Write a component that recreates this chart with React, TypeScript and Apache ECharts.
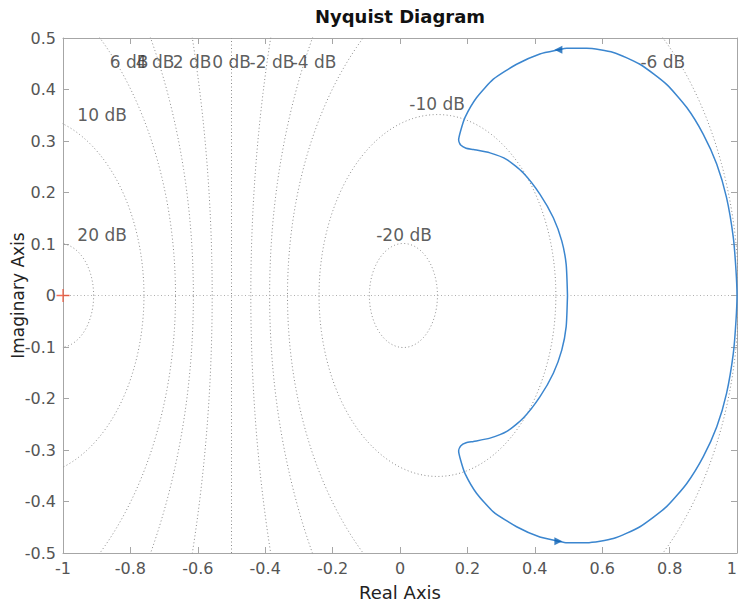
import React, { useEffect, useRef } from "react";
import * as echarts from "echarts";

// M-circle magnitudes (dB) of the Nyquist grid
const dbValues = [20, 10, 6, 4, 2, 0, -2, -4, -6, -10, -20];

// Grid label texts and anchor positions (data units)
const labelText = ["20 dB", "10 dB", "6 dB", "4 dB", "2 dB", "0 dB", "-2 dB", "-4 dB", "-6 dB", "-10 dB", "-20 dB"];
const labelX = [-0.884, -0.884, -0.804, -0.727, -0.617, -0.5, -0.38, -0.255, 0.78, 0.11, 0.012];
const labelY = [0.117, 0.351, 0.454, 0.454, 0.454, 0.454, 0.454, 0.454, 0.454, 0.371, 0.117];

// Positive-frequency branch of the Nyquist curve (omega: 0 -> inf)
const realPart = [
  1.0, 0.997, 0.989, 0.969, 0.94, 0.9, 0.851, 0.791, 0.712, 0.633, 0.554, 0.495, 0.47, 0.415,
  0.346, 0.277, 0.227, 0.193, 0.18, 0.174, 0.18, 0.196, 0.218, 0.267, 0.317, 0.366, 0.415,
  0.455, 0.48, 0.493, 0.497,
];
const imagPart = [
  0.0, 0.049, 0.113, 0.19, 0.255, 0.313, 0.365, 0.41, 0.449, 0.472, 0.48, 0.48, 0.477, 0.469,
  0.449, 0.42, 0.384, 0.346, 0.32, 0.302, 0.292, 0.286, 0.2835, 0.277, 0.264, 0.238, 0.197,
  0.151, 0.106, 0.061, 0.0,
];

// Direction arrows on the curve
const arrowX = [0.47, 0.47];
const arrowY = [0.477, -0.477];
const arrowRotate = [90, -90];

// Critical point
const criticalPoint = [-1, 0];

const xMin = -1, xMax = 1, xInterval = 0.2;
const yMin = -0.5, yMax = 0.5, yInterval = 0.1;

const FONT = "DejaVu Sans";

function mCircle(db: number): number[][] {
  const pts: number[][] = [];
  if (db === 0) {
    pts.push([-0.5, yMin], [-0.5, yMax]);
    return pts;
  }
  const M = Math.pow(10, db / 20);
  const M2 = M * M;
  const c = -M2 / (M2 - 1);
  const r = Math.abs(M / (M2 - 1));
  for (let i = 0; i <= 720; i++) {
    const t = (i / 720) * Math.PI * 2;
    pts.push([c + r * Math.cos(t), r * Math.sin(t)]);
  }
  return pts;
}

export default function App() {
  const ref = useRef<HTMLDivElement>(null);
  useEffect(() => {
    if (!ref.current) return;
    const chart = echarts.init(ref.current, undefined, { renderer: "svg" });

    const upper = realPart.map((x, i) => [x, imagPart[i]]);
    const lower = realPart.map((x, i) => [x, -imagPart[i]]).reverse();
    const curve = [...lower, ...upper];

    const gridLine = {
      color: "#8a8a8a",
      width: 1,
      type: [1, 2.5] as number[],
    };

    const circleSeries = dbValues.map((db) => ({
      type: "line",
      data: mCircle(db),
      showSymbol: false,
      symbol: "none",
      silent: true,
      lineStyle: gridLine,
      z: 1,
      clip: true,
    }));

    const axisColor = "#a6a6a6";
    const labelColor = "#555555";

    const option: any = {
      animation: false,
      graphic: [
        {
          type: "text",
          x: 400,
          y: 16,
          style: {
            text: "Nyquist Diagram",
            font: `bold 18px "${FONT}"`,
            fill: "#111",
            textAlign: "center",
            textVerticalAlign: "middle",
          },
        },
      ],
      grid: { left: 63, right: 1, top: 38, bottom: 53, containLabel: false, outerBoundsMode: "none" },
      xAxis: [
        {
          type: "value",
          min: xMin,
          max: xMax,
          interval: xInterval,
          position: "bottom",
          name: "Real Axis",
          nameLocation: "middle",
          nameGap: 30,
          nameMoveOverlap: false,
          nameTextStyle: { fontFamily: FONT, fontSize: 18, color: "#222" },
          axisLine: { show: true, onZero: false, lineStyle: { color: axisColor, width: 1 } },
          axisTick: { show: true, inside: true, length: 6, lineStyle: { color: axisColor } },
          axisLabel: { fontFamily: FONT, fontSize: 16, color: labelColor, margin: 7, alignMaxLabel: "right" },
          splitLine: { show: false },
        },
        {
          type: "value",
          min: xMin,
          max: xMax,
          interval: xInterval,
          position: "top",
          axisLine: { show: true, onZero: false, lineStyle: { color: axisColor, width: 1 } },
          axisTick: { show: true, inside: true, length: 6, lineStyle: { color: axisColor } },
          axisLabel: { show: false },
          splitLine: { show: false },
        },
      ],
      yAxis: [
        {
          type: "value",
          min: yMin,
          max: yMax,
          interval: yInterval,
          position: "left",
          name: "Imaginary Axis",
          nameLocation: "middle",
          nameGap: 36,
          nameMoveOverlap: false,
          nameTextStyle: { fontFamily: FONT, fontSize: 17, color: "#222", lineHeight: 18 },
          axisLine: { show: true, onZero: false, lineStyle: { color: axisColor, width: 1 } },
          axisTick: { show: true, inside: true, length: 6, lineStyle: { color: axisColor } },
          axisLabel: { fontFamily: FONT, fontSize: 16, color: labelColor, margin: 7 },
          splitLine: { show: false },
        },
        {
          type: "value",
          min: yMin,
          max: yMax,
          interval: yInterval,
          position: "right",
          axisLine: { show: true, onZero: false, lineStyle: { color: axisColor, width: 1 } },
          axisTick: { show: true, inside: true, length: 6, lineStyle: { color: axisColor } },
          axisLabel: { show: false },
          splitLine: { show: false },
        },
      ],
      series: [
        ...circleSeries,
        {
          type: "line",
          data: [
            [xMin, 0],
            [xMax, 0],
          ],
          symbol: "none",
          silent: true,
          lineStyle: { color: "#b0b0b0", width: 1, type: [1, 2.5] },
          z: 1,
        },
        {
          type: "scatter",
          data: labelText.map((t, i) => ({ name: t, value: [labelX[i], labelY[i]] })),
          symbolSize: 1,
          silent: true,
          itemStyle: { color: "rgba(0,0,0,0)" },
          label: {
            show: true,
            position: "inside",
            formatter: (p: any) => p.name,
            fontFamily: FONT,
            fontSize: 17,
            color: "#333",
          },
          z: 3,
        },
        {
          type: "line",
          data: curve,
          symbol: "none",
          smooth: 0.2,
          silent: true,
          lineStyle: { color: "#3b86cf", width: 1.5 },
          z: 4,
        },
        {
          type: "scatter",
          data: arrowX.map((x, i) => ({ value: [x, arrowY[i]], symbolRotate: arrowRotate[i] })),
          symbol: "triangle",
          symbolSize: 8,
          silent: true,
          itemStyle: { color: "#0b62b5" },
          z: 5,
        },
        {
          type: "scatter",
          data: [criticalPoint],
          symbol: "path://M0,5.4H12V6.6H0Z M5.4,0H6.6V12H5.4Z",
          symbolSize: 13,
          clip: false,
          silent: true,
          itemStyle: { color: "#f04a2a" },
          z: 6,
        },
      ],
    };

    chart.setOption(option);
    return () => chart.dispose();
  }, []);

  return (
    <div
      ref={ref}
      style={{ position: "fixed", left: 0, top: 0, width: 738, height: 606, background: "#fff" }}
    />
  );
}
